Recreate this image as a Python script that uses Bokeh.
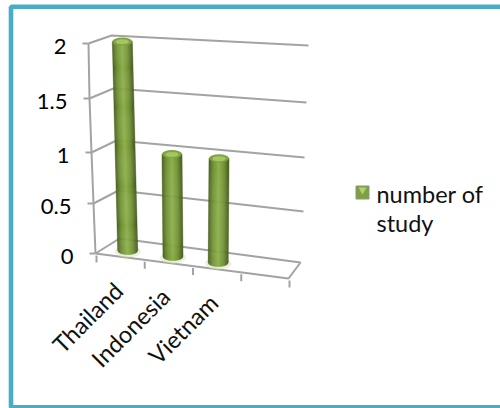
import numpy as np
from bokeh.core.properties import value
from bokeh.embed import file_html
from bokeh.plotting import figure
from bokeh.resources import INLINE

categories = ["Thailand", "Indonesia", "Vietnam"]
study_counts = [2, 1, 1]
tick_values = [0, 0.5, 1, 1.5, 2]
tick_labels = ["0", "0.5", "1", "1.5", "2"]
series_name = ["number of", "study"]

# Corners of the 3D box at each gridline level, in page pixels.
front_left = np.array([(95, 253), (93, 203), (91, 152), (89, 98), (88, 43)], float)
back_left = np.array([(119, 238), (118, 190), (116, 140), (113, 88), (111, 35)], float)
back_right = np.array([(300, 262), (303, 211), (304, 157), (306, 102), (308, 45)], float)
front_right_floor = np.array([288.0, 278.0])
SLOTS = 4
DEPTH = 0.4

GRID = "#a3a3a3"
BORDER = "#4bacc6"
FONT = value("Lato")
LINE_W = 2.0


def corner(table, v):
    return np.array([np.interp(v, tick_values, table[:, 0]),
                     np.interp(v, tick_values, table[:, 1])])


def project(t, d, v):
    """Map category fraction t, depth d (0 = front) and value v to the page."""
    fl, bl, br = corner(front_left, v), corner(back_left, v), corner(back_right, v)
    fr = br + (fl - bl)
    front = fl + (fr - fl) * t
    back = bl + (br - bl) * t
    return front + (back - front) * d


p = figure(width=500, height=408, x_range=(0, 500), y_range=(408, 0),
           output_backend="svg", toolbar_location=None, min_border=0,
           outline_line_color=None, background_fill_color="white")
p.axis.visible = False
p.grid.visible = False

# Slide frame: open on the right, running off the page
p.patch([10.5, 520, 520, 10.5], [6.3, 6.3, 406.8, 406.8], fill_color=None,
        line_color=BORDER, line_width=4.6)

# Floor, left edge, gridlines
floor_x = [front_left[0, 0], back_left[0, 0], back_right[0, 0], front_right_floor[0], front_left[0, 0]]
floor_y = [front_left[0, 1], back_left[0, 1], back_right[0, 1], front_right_floor[1], front_left[0, 1]]
p.line(floor_x, floor_y, line_color=GRID, line_width=LINE_W)
p.line(front_left[:, 0], front_left[:, 1], line_color=GRID, line_width=LINE_W)

for i, tv in enumerate(tick_values):
    fl, bl, br = front_left[i], back_left[i], back_right[i]
    if i > 0:
        p.line([fl[0], bl[0], br[0]], [fl[1], bl[1], br[1]], line_color=GRID, line_width=LINE_W)
    p.line([fl[0] - 6, fl[0]], [fl[1], fl[1]], line_color=GRID, line_width=LINE_W)

# Value labels
p.text([front_left[i, 0] - 22 for i in range(5)], [front_left[i, 1] + 3 for i in range(5)],
       text=tick_labels, text_font=FONT, text_font_size="22px", text_color="black",
       text_align="right", text_baseline="middle")

# Category ticks along the floor edge
for k in range(SLOTS + 1):
    f = k / SLOTS
    a = front_left[0] + (front_right_floor - front_left[0]) * f
    p.line([a[0] + 1, a[0] + 1], [a[1] + 2, a[1] + 9], line_color=GRID, line_width=LINE_W)

# Cylinders, shaded with narrow vertical strips
stops = [0.0, 0.22, 0.5, 0.78, 1.0]
shade_r = [72, 112, 142, 112, 70]
shade_g = [94, 144, 176, 144, 92]
shade_b = [32, 52, 74, 52, 32]
N_STRIPS = 20
HALF_W = 10.0
CAP = 4.0


def edge(u):
    return np.sqrt(max(0.0, 1 - (2 * u - 1) ** 2))


for i, count in enumerate(study_counts):
    t = (i + 0.5) / SLOTS
    base = project(t, DEPTH, 0)
    top = project(t, DEPTH, count)
    # soft contact shadow
    p.ellipse([base[0]], [base[1] + 1], width=2 * HALF_W + 6, height=2 * CAP + 4,
              fill_color="#dbe6c4", fill_alpha=0.6, line_color=None)
    for s in range(N_STRIPS):
        u0, u1 = s / N_STRIPS, (s + 1) / N_STRIPS
        um = (u0 + u1) / 2
        col = (int(np.interp(um, stops, shade_r)), int(np.interp(um, stops, shade_g)),
               int(np.interp(um, stops, shade_b)))
        xs = [top[0] - HALF_W + 2 * HALF_W * u0, top[0] - HALF_W + 2 * HALF_W * u1,
              base[0] - HALF_W + 2 * HALF_W * u1, base[0] - HALF_W + 2 * HALF_W * u0]
        ys = [top[1], top[1], base[1] + CAP * edge(u1), base[1] + CAP * edge(u0)]
        p.patch(xs, ys, fill_color=col, line_color=col, line_width=0.5)
    p.ellipse([top[0]], [top[1]], width=2 * HALF_W, height=2 * CAP,
              fill_color="#7fa440", line_color=None)
    p.ellipse([top[0]], [top[1] + 0.3], width=2 * HALF_W - 7, height=2 * CAP - 3,
              fill_color="#a5c763", line_color=None)

# Category labels, rotated and ending at the floor edge
label_x = [118, 165, 213]
label_y = [286, 292, 298]
p.text(label_x, label_y, text=categories, text_font=FONT, text_font_size="23.5px",
       text_color="#111111", text_align="right", text_baseline="middle", angle=45,
       angle_units="deg")

# Legend
p.quad(left=[355.5], right=[368.5], top=[185.5], bottom=[198.5], fill_color="#7f9f45",
       line_color="#8a9a70", line_width=1)
p.patch([358, 366, 362], [187, 187, 194], fill_color="#b5d070", line_color=None)
p.text([376, 376], [193, 222], text=series_name, text_font=FONT, text_font_size="23.5px",
       text_color="#111111", text_align="left", text_baseline="middle")

open("out.html", "w").write(file_html(p, INLINE))
